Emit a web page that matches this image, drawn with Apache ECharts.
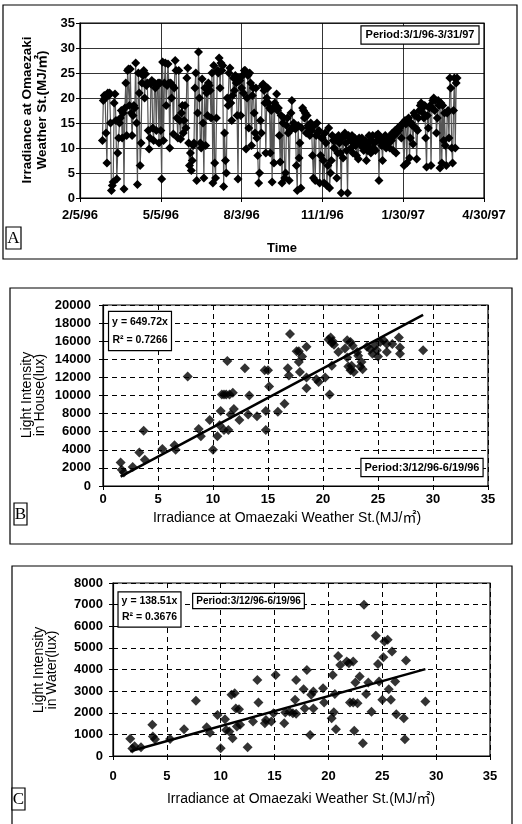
<!DOCTYPE html>
<html><head><meta charset="utf-8">
<script src="https://cdn.jsdelivr.net/npm/echarts@6/dist/echarts.min.js"></script>
<style>html,body{margin:0;padding:0;background:#fff}#c{width:522px;height:824px}</style>
</head><body><div id="c"></div>
<script>
// ---------- Panel A: daily irradiance at Omaezaki (MJ/m2), one array per month ----------
const irrMar96 = [11.5,19.5,20.5,20,13,7,21,20.5,21,15, 1.5,2.5,3.2,19,20.8,15.5,3.8,9,12,15, 16,17.5,12,17,1.8,18,23,12.5,25.5,25.8, 18.5];
const irrApr96 = [25.8,17,12.5,16.5,18.5,18,27,15,2.7,25, 21,6.5,11,23,24.5,25.5,20,24.8,22.5,23, 13.5,9.8,12,22.8,23.5,14,11.5,23,22,13.5];
const irrMay96 = [22.5,23,11,23,13.5,3.8,27.2,11.5,23,27, 18.5,22.5,26.8,23,10,23,20,22.5,12.8,22, 27.5,25.5,16,12,25.5,15.5,11.8,17,18.5,13, 15.5];
const irrJun96 = [18.5,14,24,26,11,6.5,9,5.5,7.5,10.5, 11,22,25,3.5,17,29.2,20,11,10,23.8, 15,4,22,10.5,21,16.5,23,22.5,21.5,16];
const irrJul96 = [25,3,26.5,7,4,16,25.5,25,28,22, 27,25.5,26.5,2.3,13,7.5,5,20,18.5,25, 26,19,15.5,20.5,24,21.5,24.5,23,16.5,3.8, 24];
const irrAug96 = [23.5,16.5,22,24.5,21,25.5,25.5,9.8,20,24.5, 14,25,23,10.5,20.5,22,17,13,22,12, 8.5,3,5,15.5,13,22.5,22.8,21.5,19,9, 20];
const irrSep96 = [22,19,18,9,17.5,3.2,18,7,19,18.5, 20.8,17.5,18,12.5,7.2,16.5,3,15,16,4, 5,14.5,16,13,3.5,13.5,17,19.5,14,15];
const irrOct96 = [14.5,13.8,6.5,1.5,14.5,8,11,2,14,18, 17.5,16,17,13,16.5,14.5,14,12.5,15,13.5, 8.5,4,14.5,3.5,12.5,15,13,13.5,3,8.5, 12];
const irrNov96 = [12,7.5,3,13,11,2.5,6.5,14,2,5, 7.5,12.5,11.5,10,12,11.5,4,9,12.5,11, 9,1,12,8,12.5,13,11,9.5,1,12.5];
const irrDec96 = [12,11.5,10,12.5,9,11,12,10.5,8.5,11.5, 7.8,12,11,10.5,12,11.5,9.5,10.5,11.5,7.5, 9.5,11,12.5,10,9,11.5,12.5,10,11,9.5, 12.5];
const irrJan97 = [11.5,12.8,3.5,11.5,12,10.5,7.5,12,11,12.5, 10,11.5,12,11,10,12.5,11.5,13,9.5,12.5, 13.5,9,13,14,13.5,14,14.5,12,14.8,15, 6.5];
const irrFeb97 = [15.5,14.8,7,15.5,16,8,12,15,14.5,10.8, 17,16.5,14,7.8,13.5,16,17.5,18.5,19,18, 17,16,18.5,12,6.2,16.5,14,18];
const irrMar97 = [18.5,6.5,18,19.5,20,17.5,19.5,13,16,19.5, 18.5,6,19,7,18.5,11.5,17,10.5,6.5,17, 17.5,12,24,22,10,7,17.5,24,10,23, 24];
const monthsA = [[1996,2,irrMar96],[1996,3,irrApr96],[1996,4,irrMay96],[1996,5,irrJun96],[1996,6,irrJul96],[1996,7,irrAug96],[1996,8,irrSep96],[1996,9,irrOct96],[1996,10,irrNov96],[1996,11,irrDec96],[1997,0,irrJan97],[1997,1,irrFeb97],[1997,2,irrMar97]];
const axisStartA = [1996,1,5];   // 2/5/96
const axisMinA = 0, axisMaxA = 450, axisStepA = 90; // days
const yTicksA = {min:0, max:35, interval:5};

// ---------- Panel B: light intensity in house vs irradiance ----------
const bX = [1.6,1.7,1.9,2.7,3.3,3.7,3.8,5.4,6.5,6.6,7.7,8.7,8.9,9.7,10.0,10.4,10.6,10.7,10.8,11.0,11.2,11.5,11.8,11.3,11.0,11.4,11.9,11.6,12.4,12.9,13.3,13.2,14.0,14.7,15.0,14.8,14.8,15.1,15.9,16.5,16.8,16.9,17.0,17.6,17.8,17.8,17.9,18.1,18.5,18.5,18.5,19.4,19.6,20.2,20.6,20.5,20.7,20.8,21.0,20.9,20.8,21.4,22.0,22.2,22.5,22.7,22.2,22.3,22.5,22.6,22.8,23.1,23.2,23.4,23.5,23.6,24.0,24.3,24.5,24.7,24.9,25.0,25.2,25.5,25.8,25.8,26.3,26.9,27.0,27.0,29.1];
const bY = [2600,1800,1500,2100,3700,6100,2900,4100,4500,4000,12100,6300,5500,7300,4000,5500,6700,8300,10100,10100,10100,10100,10300,13800,6200,6200,8500,7900,7300,13000,10000,7900,7700,12800,12800,8300,6200,11000,8200,9100,13000,12200,16800,14900,14900,13700,12600,14300,15400,10800,12000,11800,11500,12000,10100,16200,16400,15800,15600,16000,13300,14800,15200,16100,15900,15500,14200,13200,12800,13300,12600,14800,14400,13200,13700,12900,15400,15100,14600,15500,15000,14300,15900,16100,15700,14800,15700,16400,15300,14600,15000];
const bSlope = 649.72, bR2 = '0.7266';

// ---------- Panel C: light intensity in water vs irradiance ----------
const cX = [1.6,1.8,2.0,2.6,3.65,3.7,3.9,5.3,6.6,7.7,8.7,9.0,9.7,10.0,10.4,10.5,10.8,11.0,11.3,11.1,11.4,11.7,11.8,11.5,12.5,13.0,13.4,13.5,14.1,14.2,14.7,14.9,15.1,15.9,16.0,16.4,16.7,17.0,17.0,16.9,17.7,18.0,17.8,18.6,18.3,18.6,18.4,19.5,19.6,20.3,20.5,20.4,20.6,20.7,20.9,21.1,21.7,21.9,22.3,22.0,22.3,22.7,22.4,22.5,22.9,23.2,23.3,23.5,23.7,24.0,24.4,24.6,24.7,25.0,25.1,25.2,25.5,25.6,25.8,25.9,26.2,26.3,27.0,27.2,27.1,29.0];
const cY = [800,350,450,400,1440,900,770,790,1240,2550,1330,1080,1900,360,1700,1200,1130,2830,2900,820,2200,2160,1440,1360,400,1590,3520,2470,1510,1670,1590,1980,3750,1510,2010,2050,1980,1950,3520,2600,3090,3980,2200,2200,970,2980,2830,3130,2470,1750,2020,3750,2870,1240,4630,4210,4370,4290,4370,2470,2470,2440,1170,3400,3680,590,7000,2870,3400,2050,5560,4260,3440,2600,4570,5300,5370,3090,2600,4830,3440,1930,1750,4420,770,2520];
const cSlope = 138.51, cR2 = '0.3676';

// ---------- build ----------
const DAY = 86400000;
const base = Date.UTC(axisStartA[0], axisStartA[1], axisStartA[2]);
const dataA = [];
monthsA.forEach(([y, m, vals]) => {
  const start = (Date.UTC(y, m, 1) - base) / DAY;
  vals.forEach((v, i) => dataA.push([start + i, v]));
});
function fmtDay(v) {
  const d = new Date(base + v * DAY);
  return (d.getUTCMonth() + 1) + '/' + d.getUTCDate() + '/' + String(d.getUTCFullYear()).slice(2);
}
const plain = v => String(v);
const ptsB = bX.map((x, i) => [x, bY[i]]);
const ptsC = cX.map((x, i) => [x, cY[i]]);
const bMinX = Math.min(...bX), bMaxX = Math.max(...bX);
const cMinX = Math.min(...cX), cMaxX = Math.max(...cX);
const trendB = [[bMinX, bSlope * bMinX], [bMaxX, bSlope * bMaxX]];
const trendC = [[cMinX, cSlope * cMinX], [cMaxX, cSlope * cMaxX]];

const FF = '"Liberation Sans", Arial, "Noto Sans CJK JP", sans-serif';
const tickLbl = {color:'#000', fontFamily:FF, fontWeight:'bold', fontSize:13, formatter:plain};
const axLine = {show:true, lineStyle:{color:'#000', width:1.2}};
const axTick = {show:true, length:4, lineStyle:{color:'#000', width:1}};
const dashed = {show:true, lineStyle:{color:'#000', width:1, type:[5,4]}};
const solid = {show:true, lineStyle:{color:'#000', width:0.8}};

const chart = echarts.init(document.getElementById('c'), null, {renderer:'canvas'});
const option = {
  animation:false,
  backgroundColor:'#fff',
  grid:[
    {left:80, top:23, width:404, height:175, show:true, borderColor:'#000', borderWidth:1.2, backgroundColor:'transparent'},
    {left:103, top:305, width:385, height:181, show:true, borderColor:'#000', borderWidth:1.2, backgroundColor:'transparent'},
    {left:113, top:583, width:377, height:173, show:true, borderColor:'#000', borderWidth:1.2, backgroundColor:'transparent'}
  ],
  xAxis:[
    {gridIndex:0, type:'value', min:axisMinA, max:axisMaxA, interval:axisStepA, axisLine:axLine, axisTick:axTick,
     axisLabel:Object.assign({}, tickLbl, {margin:11, formatter:fmtDay, showMaxLabel:true, showMinLabel:true}), splitLine:solid},
    {gridIndex:1, type:'value', min:0, max:35, interval:5, axisLine:axLine, axisTick:axTick,
     axisLabel:Object.assign({}, tickLbl, {margin:7}), splitLine:dashed},
    {gridIndex:2, type:'value', min:0, max:35, interval:5, axisLine:axLine, axisTick:axTick,
     axisLabel:Object.assign({}, tickLbl, {margin:14}), splitLine:dashed}
  ],
  yAxis:[
    {gridIndex:0, type:'value', min:yTicksA.min, max:yTicksA.max, interval:yTicksA.interval, axisLine:axLine, axisTick:axTick,
     axisLabel:Object.assign({}, tickLbl, {margin:5}), splitLine:solid},
    {gridIndex:1, type:'value', min:0, max:20000, interval:2000, axisLine:axLine, axisTick:axTick,
     axisLabel:Object.assign({}, tickLbl, {margin:12}), splitLine:dashed},
    {gridIndex:2, type:'value', min:0, max:8000, interval:1000, axisLine:axLine, axisTick:axTick,
     axisLabel:Object.assign({}, tickLbl, {margin:10}), splitLine:dashed}
  ],
  series:[
    {type:'line', xAxisIndex:0, yAxisIndex:0, data:dataA, symbol:'diamond', symbolSize:9,
     itemStyle:{color:'#000'}, lineStyle:{color:'#555', width:1.2}, z:3},
    {type:'scatter', xAxisIndex:1, yAxisIndex:1, data:ptsB, symbol:'diamond', symbolSize:10, itemStyle:{color:'#000'}, z:3},
    {type:'line', xAxisIndex:1, yAxisIndex:1, data:trendB, symbol:'none', lineStyle:{color:'#000', width:2.5}, z:4},
    {type:'scatter', xAxisIndex:2, yAxisIndex:2, data:ptsC, symbol:'diamond', symbolSize:10, itemStyle:{color:'#000'}, z:3},
    {type:'line', xAxisIndex:2, yAxisIndex:2, data:trendC, symbol:'none', lineStyle:{color:'#000', width:2.5}, z:4}
  ],
  graphic:[
    // panel frames
    {type:'rect', shape:{x:3, y:5, width:514, height:254}, style:{fill:'none', stroke:'#000', lineWidth:1.2}, z:100},
    {type:'rect', shape:{x:10, y:288, width:502, height:256}, style:{fill:'none', stroke:'#000', lineWidth:1.2}, z:100},
    {type:'rect', shape:{x:12, y:566, width:500, height:270}, style:{fill:'none', stroke:'#000', lineWidth:1.2}, z:100},
    // panel letters
    {type:'rect', shape:{x:6, y:227, width:15, height:22}, style:{fill:'#fff', stroke:'#000', lineWidth:1.2}, z:100},
    {type:'text', x:13.5, y:238.5, style:{text:'A', font:'17px "Liberation Serif", serif', fill:'#000', align:'center', verticalAlign:'middle'}, z:101},
    {type:'rect', shape:{x:14, y:503, width:13, height:22}, style:{fill:'#fff', stroke:'#000', lineWidth:1.2}, z:100},
    {type:'text', x:20.5, y:514.5, style:{text:'B', font:'17px "Liberation Serif", serif', fill:'#000', align:'center', verticalAlign:'middle'}, z:101},
    {type:'rect', shape:{x:12, y:788, width:13, height:22}, style:{fill:'#fff', stroke:'#000', lineWidth:1.2}, z:100},
    {type:'text', x:18.5, y:799.5, style:{text:'C', font:'17px "Liberation Serif", serif', fill:'#000', align:'center', verticalAlign:'middle'}, z:101},
    // Panel A titles
    {type:'text', x:27, y:110, rotation:Math.PI/2, style:{text:'Irradiance at Omaezaki', font:'bold 13.5px '+FF, fill:'#000', align:'center', verticalAlign:'middle'}, z:101},
    {type:'text', x:42, y:110, rotation:Math.PI/2, style:{text:'Weather St.(MJ/㎡)', font:'bold 13.5px '+FF, fill:'#000', align:'center', verticalAlign:'middle'}, z:101},
    {type:'text', x:282, y:248, style:{text:'Time', font:'bold 13px '+FF, fill:'#000', align:'center', verticalAlign:'middle'}, z:101},
    {type:'text', x:420, y:35, style:{text:'Period:3/1/96-3/31/97', font:'bold 11px '+FF, fill:'#000', align:'center', verticalAlign:'middle',
      backgroundColor:'#fff', borderColor:'#000', borderWidth:1.2, padding:[3,4,3,4]}, z:101},
    // Panel B titles
    {type:'text', x:27, y:395, rotation:Math.PI/2, style:{text:'Light Intensity', font:'14px '+FF, fill:'#000', align:'center', verticalAlign:'middle'}, z:101},
    {type:'text', x:40, y:395, rotation:Math.PI/2, style:{text:'in House(lux)', font:'14px '+FF, fill:'#000', align:'center', verticalAlign:'middle'}, z:101},
    {type:'text', x:287, y:518, style:{text:'Irradiance at Omaezaki Weather St.(MJ/㎡)', font:'14px '+FF, fill:'#000', align:'center', verticalAlign:'middle'}, z:101},
    {type:'text', x:140, y:331, style:{text:'y = 649.72x\nR² = ' + bR2, font:'bold 10.5px '+FF, lineHeight:18, fill:'#000', align:'center', verticalAlign:'middle',
      backgroundColor:'#fff', borderColor:'#000', borderWidth:1.2, padding:[1,3,1,3]}, z:101},
    {type:'text', x:422, y:467.5, style:{text:'Period:3/12/96-6/19/96', font:'bold 11px '+FF, fill:'#000', align:'center', verticalAlign:'middle',
      backgroundColor:'#fff', borderColor:'#000', borderWidth:1.2, padding:[3,3,3,3]}, z:101},
    // Panel C titles
    {type:'text', x:39, y:670, rotation:Math.PI/2, style:{text:'Light Intensity', font:'14px '+FF, fill:'#000', align:'center', verticalAlign:'middle'}, z:101},
    {type:'text', x:52, y:670, rotation:Math.PI/2, style:{text:'in Water(lux)', font:'14px '+FF, fill:'#000', align:'center', verticalAlign:'middle'}, z:101},
    {type:'text', x:301, y:799, style:{text:'Irradiance at Omaezaki Weather St.(MJ/㎡)', font:'14px '+FF, fill:'#000', align:'center', verticalAlign:'middle'}, z:101},
    {type:'text', x:149.5, y:609.5, style:{text:'y = 138.51x\nR² = ' + cR2, font:'bold 10.5px '+FF, lineHeight:16, fill:'#000', align:'center', verticalAlign:'middle',
      backgroundColor:'#fff', borderColor:'#000', borderWidth:1.2, padding:[1,3,1,3]}, z:101},
    {type:'text', x:248.5, y:601, style:{text:'Period:3/12/96-6/19/96', font:'bold 10px '+FF, fill:'#000', align:'center', verticalAlign:'middle',
      backgroundColor:'#fff', borderColor:'#000', borderWidth:1.2, padding:[2,3,2,3]}, z:101}
  ]
};
option.graphic.forEach(g => { g.silent = true; });
chart.setOption(option);
</script></body></html>
